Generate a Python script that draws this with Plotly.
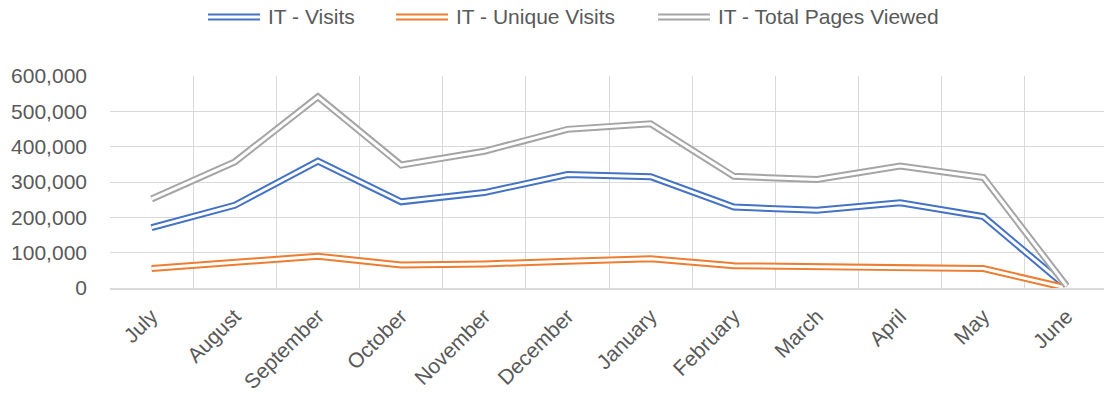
import plotly.graph_objects as go

months = ["July", "August", "September", "October", "November", "December",
          "January", "February", "March", "April", "May", "June"]
visits = [171000, 234000, 359000, 244000, 270000, 321000, 315000, 229000, 220000, 241000, 202000, 4000]
unique_visits = [55000, 72000, 90000, 65000, 68000, 76000, 83000, 63000, 59000, 57000, 55000, 0]
total_pages = [252000, 357000, 541000, 348000, 387000, 449000, 465000, 316000, 307000, 345000, 313000, 6000]

series = [
    ("IT - Visits", visits, "#4472C4"),
    ("IT - Unique Visits", unique_visits, "#ED7D31"),
    ("IT - Total Pages Viewed", total_pages, "#A5A5A5"),
]

FONT = "Liberation Sans"
TXT = "#595959"
W, H = 1104, 402
ML, MR, MT, MB = 110, 0, 76, 114
PW, PH = W - ML - MR, H - MT - MB

fig = go.Figure()
for name, vals, color in series:
    fig.add_trace(go.Scatter(x=months, y=vals, mode="lines", name=name,
                             line=dict(color=color, width=7), hoverinfo="skip"))
    fig.add_trace(go.Scatter(x=months, y=vals, mode="lines", showlegend=False,
                             line=dict(color="white", width=3), hoverinfo="skip"))

# legend drawn as double-line samples (Excel compound line style)
legend_starts = [208, 396, 658]  # pixel x of each legend sample
legend_y = 17
def px(v):
    return (v - ML) / PW
py = (MT + PH - legend_y) / PH
for (name, _, color), x0 in zip(series, legend_starts):
    for c, w in ((color, 7), ("white", 3)):
        fig.add_shape(type="line", xref="paper", yref="paper",
                      x0=px(x0), x1=px(x0 + 52), y0=py, y1=py,
                      line=dict(color=c, width=w))
    fig.add_annotation(xref="paper", yref="paper", x=px(x0 + 58), y=py,
                       text=name, showarrow=False, xanchor="left", yanchor="middle",
                       font=dict(size=21, color=TXT, family=FONT))

fig.update_layout(
    width=W, height=H,
    margin=dict(l=ML, r=MR, t=MT, b=MB),
    paper_bgcolor="white", plot_bgcolor="white",
    font=dict(family=FONT, color=TXT, size=21),
    showlegend=False,
)
fig.update_xaxes(type="category", range=[-0.5, 11.45], tickson="boundaries",
                 showgrid=True, gridcolor="#D9D9D9", gridwidth=1,
                 showline=True, linecolor="#D9D9D9", linewidth=1.5,
                 ticks="", tickangle=-45, ticklabelstandoff=6, automargin=False,
                 tickfont=dict(size=21, color=TXT, family=FONT))
fig.update_yaxes(range=[0, 600000], dtick=100000, tickformat=",",
                 showgrid=True, gridcolor="#D9D9D9", gridwidth=1,
                 zeroline=False, showline=False, ticks="", automargin=False,
                 ticklabelstandoff=22,
                 tickfont=dict(size=21, color=TXT, family=FONT))

fig.write_html("out.html", config={"displayModeBar": False},
               post_script="document.body.style.margin='0px';document.body.style.overflow='hidden';")
